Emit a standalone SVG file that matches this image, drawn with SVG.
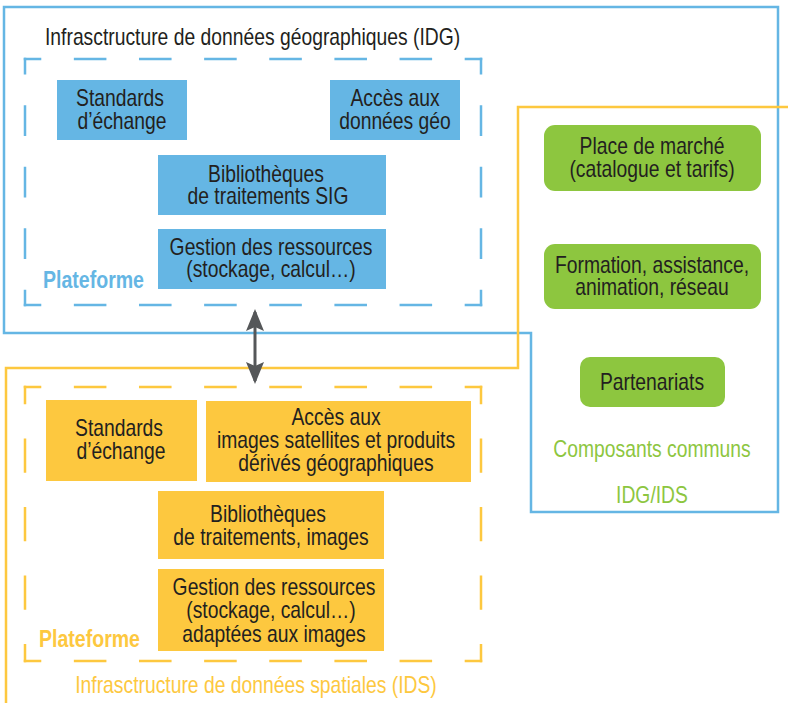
<svg xmlns="http://www.w3.org/2000/svg" width="788" height="703" viewBox="0 0 788 703">
<style>
text{font-family:"Liberation Sans",Arial,sans-serif;font-size:23px;fill:#231f20;text-anchor:middle}
.blue{fill:#65b6e4}
.orange{fill:#fdc83f}
.green{fill:#8dc63f}
.bt{fill:#65b6e4}
.ot{fill:#fdc83f}
.gt{fill:#8dc63f}
.bold{font-weight:bold}
.start{text-anchor:start}
.frame{fill:none;stroke-width:2.5}
.dash{fill:none;stroke-width:2.5;stroke-linecap:square}
.bh{stroke-dasharray:30.07 35.07;stroke-dashoffset:15.04}
.bv{stroke-dasharray:28.25 33.25;stroke-dashoffset:14.125}
.ov{stroke-dasharray:31.75 36.75;stroke-dashoffset:15.875}
</style>
<defs>
<marker id="ah" viewBox="0 0 22 18" markerWidth="22" markerHeight="18" refX="19" refY="9" orient="auto-start-reverse" markerUnits="userSpaceOnUse">
<path d="M0,0 L22,9 L0,18 L4,9 z" fill="#555759"/>
</marker>
</defs>

<g id="idg-frame">
<polygon class="frame" stroke="#65b6e4" points="4,7 778,7 778,512 531,512 531,333 4,333"/>
<text class="start" transform="translate(45,45) scale(0.84,1)">Infrasctructure de données géographiques (IDG)</text>
</g>
<g id="ids-frame">
<polyline class="frame" stroke="#fdc83f" points="790,107 518,107 518,368 6,368 6,705"/>
<text class="ot" transform="translate(256,693) scale(0.84,1)">Infrasctructure de données spatiales (IDS)</text>
</g>

<g id="idg-platform">
<line class="dash bh" stroke="#65b6e4" x1="25" y1="59" x2="481" y2="59"/>
<line class="dash bh" stroke="#65b6e4" x1="25" y1="305" x2="481" y2="305"/>
<line class="dash bv" stroke="#65b6e4" x1="25" y1="59" x2="25" y2="305"/>
<line class="dash bv" stroke="#65b6e4" x1="481" y1="59" x2="481" y2="305"/>
<text class="bt bold start" transform="translate(43,288) scale(0.85,1)">Plateforme</text>
</g>
<g id="ids-platform">
<line class="dash bh" stroke="#fdc83f" x1="25" y1="387" x2="481" y2="387"/>
<line class="dash bh" stroke="#fdc83f" x1="25" y1="661" x2="481" y2="661"/>
<line class="dash ov" stroke="#fdc83f" x1="25" y1="387" x2="25" y2="661"/>
<line class="dash ov" stroke="#fdc83f" x1="481" y1="387" x2="481" y2="661"/>
<text class="ot bold start" transform="translate(39,647) scale(0.85,1)">Plateforme</text>
</g>

<g id="b-standards">
<rect class="blue" x="57" y="80" width="130" height="60"/>
<text transform="translate(120,106) scale(0.84,1)">Standards</text>
<text transform="translate(122,129) scale(0.84,1)">d’échange</text>
</g>
<g id="b-acces">
<rect class="blue" x="330" y="80" width="130" height="60"/>
<text transform="translate(395,106) scale(0.84,1)">Accès aux</text>
<text transform="translate(395,129) scale(0.84,1)">données géo</text>
</g>
<g id="b-biblio">
<rect class="blue" x="158" y="155" width="228" height="60"/>
<text transform="translate(266,182) scale(0.84,1)">Bibliothèques</text>
<text transform="translate(268,204) scale(0.84,1)">de traitements SIG</text>
</g>
<g id="b-gestion">
<rect class="blue" x="158" y="229" width="228" height="60"/>
<text transform="translate(271,255) scale(0.84,1)">Gestion des ressources</text>
<text transform="translate(271,277) scale(0.84,1)">(stockage, calcul…)</text>
</g>

<g id="o-standards">
<rect class="orange" x="46" y="400" width="151" height="81"/>
<text transform="translate(119,436) scale(0.84,1)">Standards</text>
<text transform="translate(121,459) scale(0.84,1)">d’échange</text>
</g>
<g id="o-acces">
<rect class="orange" x="206" y="401" width="265" height="81"/>
<text transform="translate(336,425) scale(0.84,1)">Accès aux</text>
<text transform="translate(336,448) scale(0.84,1)">images satellites et produits</text>
<text transform="translate(336,471) scale(0.84,1)">dérivés géographiques</text>
</g>
<g id="o-biblio">
<rect class="orange" x="158" y="491" width="226" height="68"/>
<text transform="translate(268,522) scale(0.84,1)">Bibliothèques</text>
<text transform="translate(271,545) scale(0.84,1)">de traitements, images</text>
</g>
<g id="o-gestion">
<rect class="orange" x="158" y="569" width="226" height="82"/>
<text transform="translate(274,595) scale(0.84,1)">Gestion des ressources</text>
<text transform="translate(271,618) scale(0.84,1)">(stockage, calcul…)</text>
<text transform="translate(274,642) scale(0.84,1)">adaptées aux images</text>
</g>

<g id="g-marche">
<rect class="green" x="544" y="125" width="217" height="66" rx="11"/>
<text transform="translate(652,154) scale(0.84,1)">Place de marché</text>
<text transform="translate(652,177) scale(0.84,1)">(catalogue et tarifs)</text>
</g>
<g id="g-formation">
<rect class="green" x="544" y="244" width="217" height="65" rx="11"/>
<text transform="translate(652,273) scale(0.84,1)">Formation, assistance,</text>
<text transform="translate(652,295) scale(0.84,1)">animation, réseau</text>
</g>
<g id="g-partenariats">
<rect class="green" x="580" y="357" width="145" height="50" rx="10"/>
<text transform="translate(652,390) scale(0.84,1)">Partenariats</text>
</g>
<g id="common-labels">
<text class="gt" transform="translate(652,457) scale(0.84,1)">Composants communs</text>
<text class="gt" transform="translate(652,503) scale(0.84,1)">IDG/IDS</text>
</g>

<g id="connectors">
<line x1="255" y1="312" x2="255" y2="381" stroke="#555759" stroke-width="3" marker-start="url(#ah)" marker-end="url(#ah)"/>
</g>
</svg>
